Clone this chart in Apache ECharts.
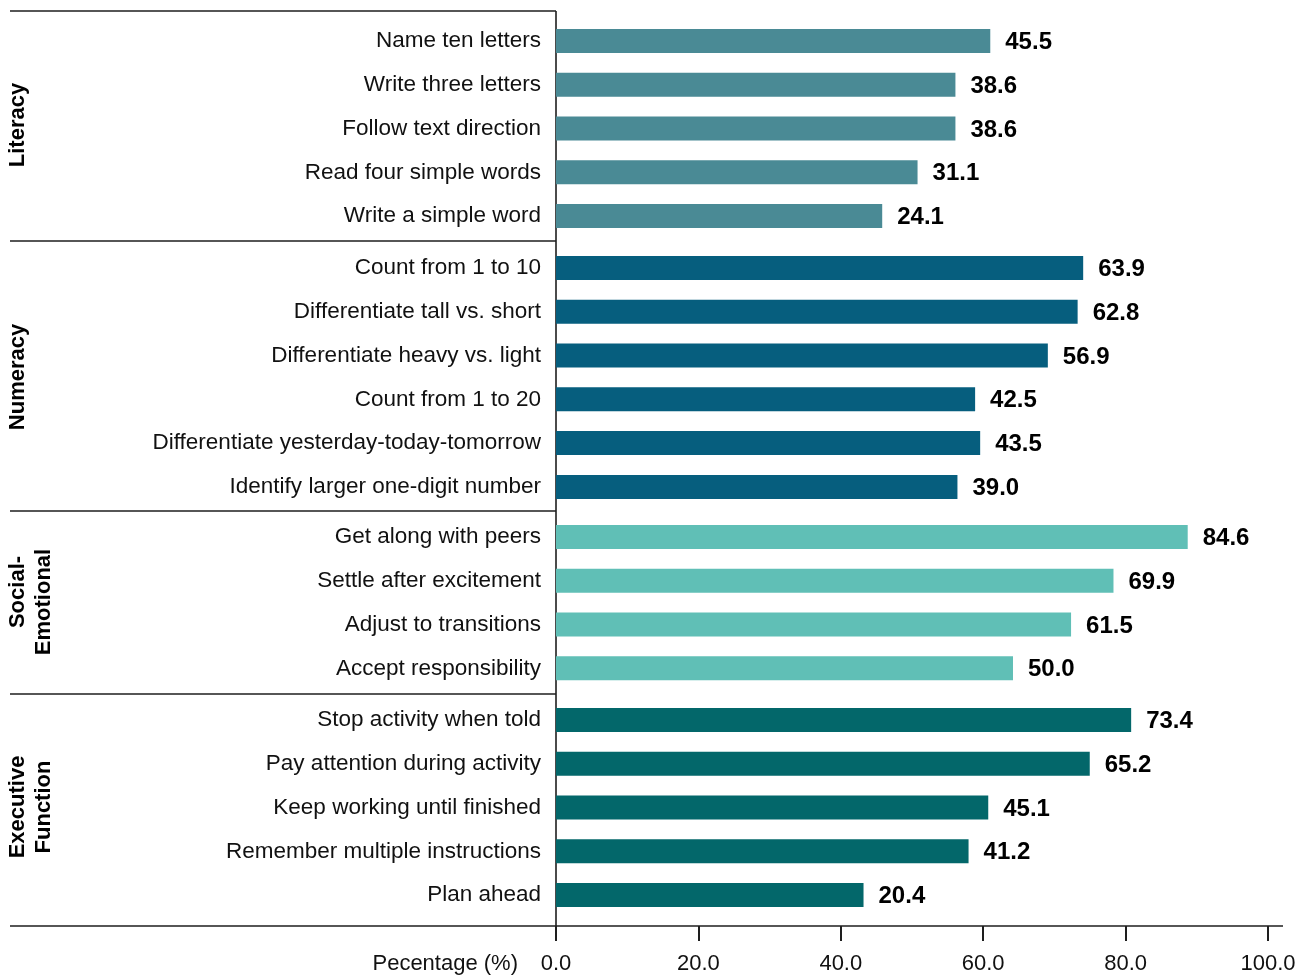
<!DOCTYPE html>
<html>
<head>
<meta charset="utf-8">
<title>Skills by domain</title>
<script src="https://cdn.jsdelivr.net/npm/echarts@6/dist/echarts.min.js"></script>
<style>
  html, body { margin: 0; padding: 0; background: #fff; }
  #chart { width: 1305px; height: 977px; }
</style>
</head>
<body>
<div id="chart"></div>
<script>
// Domain groups, item labels and percentages
const groupNames = ['Literacy', 'Numeracy', 'Social-Emotional', 'Executive Function'];

const literacyItems = ['Name ten letters', 'Write three letters', 'Follow text direction', 'Read four simple words', 'Write a simple word'];
const literacyValues = [45.5, 38.6, 38.6, 31.1, 24.1];

const numeracyItems = ['Count from 1 to 10', 'Differentiate tall vs. short', 'Differentiate heavy vs. light', 'Count from 1 to 20', 'Differentiate yesterday-today-tomorrow', 'Identify larger one-digit number'];
const numeracyValues = [63.9, 62.8, 56.9, 42.5, 43.5, 39.0];

const socialItems = ['Get along with peers', 'Settle after excitement', 'Adjust to transitions', 'Accept responsibility'];
const socialValues = [84.6, 69.9, 61.5, 50.0];

const executiveItems = ['Stop activity when told', 'Pay attention during activity', 'Keep working until finished', 'Remember multiple instructions', 'Plan ahead'];
const executiveValues = [73.4, 65.2, 45.1, 41.2, 20.4];

const axisTicks = [0, 20, 40, 60, 80, 100];
const axisTitle = 'Pecentage (%)';

const groupColors = ['#4a8a95', '#065e7e', '#60bfb6', '#03676a'];

const groups = [
  { items: literacyItems, values: literacyValues },
  { items: numeracyItems, values: numeracyValues },
  { items: socialItems, values: socialValues },
  { items: executiveItems, values: executiveValues }
];

// layout
const FONT = '"Liberation Sans", Arial, sans-serif';
const W = 1305, H = 977;
const plotLeft = 556, plotRight = 1268;
const rowH = 43.8;
const groupTops = [19, 246, 515, 698];
const ruleYs = [11, 241, 511, 694];
const axisY = 926;
const lineColor = '#1e1e1e';

const chart = echarts.init(document.getElementById('chart'), null, { renderer: 'canvas' });

const grid = [], xAxis = [], yAxis = [], series = [];

groups.forEach((g, i) => {
  grid.push({
    left: plotLeft, right: W - plotRight,
    top: groupTops[i], height: rowH * g.items.length,
    containLabel: false
  });
  // bar scale: bars grow from the left edge of the plot
  xAxis.push({
    type: 'value', gridIndex: i, show: false,
    min: -40.5, max: 100.5, startValue: -40.5
  });
  yAxis.push({
    type: 'category', gridIndex: i, inverse: true,
    data: g.items,
    axisLine: { show: false }, axisTick: { show: false }, splitLine: { show: false },
    axisLabel: { margin: 15, fontSize: 22.5, color: '#111', fontFamily: FONT }
  });
  series.push({
    type: 'bar', xAxisIndex: i, yAxisIndex: i,
    data: g.values,
    barWidth: 24,
    itemStyle: { color: groupColors[i] },
    label: {
      show: true, position: 'right', distance: 15, offset: [0, 1.5],
      fontSize: 24, fontWeight: 'bold', color: '#000', fontFamily: FONT,
      formatter: p => p.value.toFixed(1)
    },
    silent: true, animation: false
  });
});

// visible percentage axis
grid.push({ left: plotLeft, right: W - plotRight, top: 11, bottom: H - axisY });
xAxis.push({
  type: 'value', gridIndex: 4,
  min: axisTicks[0], max: axisTicks[axisTicks.length - 1],
  interval: axisTicks[1] - axisTicks[0],
  axisLine: { show: false },
  axisTick: { show: true, length: 15, inside: false, lineStyle: { color: lineColor, width: 2 } },
  splitLine: { show: false },
  axisLabel: { margin: 27, fontSize: 22, color: '#111', fontFamily: FONT, formatter: v => v.toFixed(1) }
});
yAxis.push({ type: 'category', gridIndex: 4, show: false, data: ['a'] });

// rules and group titles
const graphic = [];
ruleYs.forEach(y => {
  graphic.push({ type: 'line', shape: { x1: 10, y1: y, x2: plotLeft, y2: y }, style: { stroke: lineColor, lineWidth: 1.6 }, silent: true });
});
graphic.push({ type: 'line', shape: { x1: 10, y1: axisY, x2: 1283, y2: axisY }, style: { stroke: lineColor, lineWidth: 1.6 }, silent: true });
graphic.push({ type: 'line', shape: { x1: plotLeft, y1: 11, x2: plotLeft, y2: axisY }, style: { stroke: lineColor, lineWidth: 1.6 }, silent: true });

const titleLines = [
  { text: 'Literacy', x: 18, y: 125 },
  { text: 'Numeracy', x: 18, y: 377 },
  { text: 'Social-', x: 18, y: 592 },
  { text: 'Emotional', x: 44, y: 602 },
  { text: 'Executive', x: 18, y: 807 },
  { text: 'Function', x: 44, y: 807 }
];
titleLines.forEach(t => {
  graphic.push({
    type: 'text', x: t.x, y: t.y, rotation: Math.PI / 2, silent: true,
    style: { text: t.text, fill: '#000', font: 'bold 22px ' + FONT, align: 'center', verticalAlign: 'middle' }
  });
});
graphic.push({
  type: 'text', x: 518, y: 964, silent: true,
  style: { text: axisTitle, fill: '#111', font: '22px ' + FONT, align: 'right', verticalAlign: 'middle' }
});

chart.setOption({
  backgroundColor: '#fff',
  animation: false,
  grid, xAxis, yAxis, series, graphic
});
</script>
</body>
</html>
